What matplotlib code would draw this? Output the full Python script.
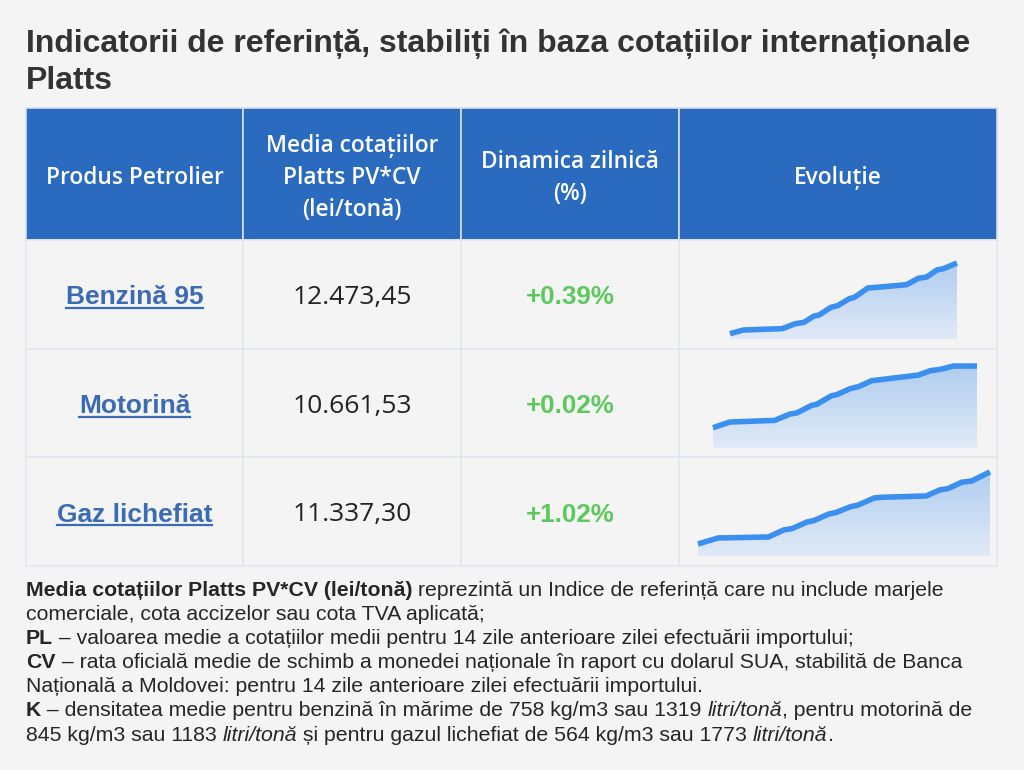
import matplotlib
matplotlib.use("Agg")
import matplotlib.pyplot as plt
import numpy as np
from matplotlib.patches import Rectangle
from matplotlib.colors import LinearSegmentedColormap

# ---------------- data ----------------
title_lines = ["Indicatorii de referință, stabiliți în baza cotațiilor internaționale", "Platts"]
headers = [["Produs Petrolier"],
           ["Media cotațiilor", "Platts PV*CV", "(lei/tonă)"],
           ["Dinamica zilnică", "(%)"],
           ["Evoluție"]]
products = ["Benzină 95", "Motorină", "Gaz lichefiat"]
prices = ["12.473,45", "10.661,53", "11.337,30"]
changes = ["+0.39%", "+0.02%", "+1.02%"]

# sparkline series (time position, level)
benz_t = [0, 40, 155, 195, 220, 250, 265, 300, 320, 355, 370, 410, 435, 525, 560, 585, 615, 635, 675]
benz_v = [16, 27, 31, 46, 50, 69, 72, 95, 100, 121, 125, 153, 155, 163, 182, 186, 207, 211, 228]
moto_t = [0, 50, 185, 230, 250, 295, 310, 355, 370, 410, 435, 475, 500, 615, 650, 680, 720, 790]
moto_v = [60, 77, 82, 101, 104, 127, 130, 156, 159, 177, 183, 201, 204, 218, 231, 235, 245, 245]
gaz_t = [0, 60, 210, 255, 280, 325, 345, 390, 410, 455, 475, 525, 545, 680, 720, 745, 785, 815, 870]
gaz_v = [37, 55, 58, 79, 83, 103, 107, 127, 131, 149, 153, 175, 177, 181, 199, 203, 222, 226, 253]
series = [(benz_t, benz_v), (moto_t, moto_v), (gaz_t, gaz_v)]

# ---------------- layout ----------------
W, H = 1024, 770
BG = "#f4f4f4"
fig = plt.figure(figsize=(W / 100, H / 100), dpi=100, facecolor=BG)


def fx(px):
    return px / W


def fy(py):
    return 1 - py / H


col_x = [26, 243, 461, 679, 997]
row_y = [108, 240, 349, 457.5, 566]
HEADER_BG = "#2a6bc0"
BORDER = "#e3e6ed"

# title
fig.text(fx(26), fy(52), title_lines[0], fontsize=23.0, fontweight="bold",
         family="Liberation Sans", color="#333333", va="baseline", ha="left")
fig.text(fx(26), fy(89), title_lines[1], fontsize=23.0, fontweight="bold",
         family="Liberation Sans", color="#333333", va="baseline", ha="left")

# header cells
for i in range(4):
    x0, x1 = col_x[i], col_x[i + 1]
    fig.patches.append(Rectangle((fx(x0), fy(row_y[1])), fx(x1) - fx(x0),
                                 fy(row_y[0]) - fy(row_y[1]), transform=fig.transFigure,
                                 facecolor=HEADER_BG, edgecolor="#d6dfee", linewidth=1.2,
                                 zorder=-2))
    lines = headers[i]
    cx = (x0 + x1) / 2
    cy = (row_y[0] + row_y[1]) / 2 + 4
    n = len(lines)
    for k, ln in enumerate(lines):
        yy = cy + (k - (n - 1) / 2) * 32
        fig.text(fx(cx), fy(yy), ln, fontsize=16.4, fontweight="semibold",
                 family="Open Sans", color="white", ha="center", va="center")

# body cells
for r in range(3):
    y0, y1 = row_y[r + 1], row_y[r + 2]
    for i in range(4):
        x0, x1 = col_x[i], col_x[i + 1]
        fig.patches.append(Rectangle((fx(x0), fy(y1)), fx(x1) - fx(x0), fy(y0) - fy(y1),
                                     transform=fig.transFigure, facecolor=BG,
                                     edgecolor=BORDER, linewidth=1.2, zorder=-2))
    cy = (y0 + y1) / 2 + 3
    fig.text(fx((col_x[0] + col_x[1]) / 2), fy(cy), products[r], fontsize=19,
             fontweight="bold", family="Liberation Sans", color="#3a6bb3",
             ha="center", va="center")
    fig.text(fx((col_x[1] + col_x[2]) / 2), fy(cy), prices[r], fontsize=19,
             family="Open Sans", color="#222222", ha="center", va="center")
    fig.text(fx((col_x[2] + col_x[3]) / 2), fy(cy), changes[r], fontsize=18.7,
             fontweight="bold", family="Liberation Sans", color="#5cc95c",
             ha="center", va="center")

# underline product names
fig.canvas.draw()
renderer = fig.canvas.get_renderer()
for t in list(fig.texts):
    if t.get_text() in products:
        bb = t.get_window_extent(renderer)
        base = bb.y0 + bb.height * 0.2
        fig.add_artist(plt.Line2D([bb.x0 / W, bb.x1 / W], [(base - 3.5) / H, (base - 3.5) / H],
                                  transform=fig.transFigure, color="#3a6bb3", linewidth=1.6))

# sparklines: (left px, right px, bottom px)
spark_pos = [(730, 957, 339), (713, 977, 447.7), (698, 990, 556.3)]
cmap = LinearSegmentedColormap.from_list("g", ["#e0eaf7", "#b0cdf0"])
for (t_, v_), (l, rgt, b) in zip(series, spark_pos):
    t_ = np.array(t_, float)
    v_ = np.array(v_, float)
    width_px = rgt - l
    vmax = 260
    height_px = vmax / 3.0
    ax = fig.add_axes([fx(l), fy(b), width_px / W, height_px / H], zorder=5)
    ax.patch.set_alpha(0)
    ax.set_xlim(t_[0], t_[-1])
    ax.set_ylim(0, vmax)
    ax.axis("off")
    poly = ax.fill_between(t_, 0, v_, color="none", linewidth=0)
    grad = np.linspace(0, 1, 256).reshape(-1, 1)
    im = ax.imshow(grad, cmap=cmap, aspect="auto", origin="lower",
                   extent=[t_[0], t_[-1], 0, v_.max()], zorder=1)
    im.set_clip_path(poly.get_paths()[0], transform=ax.transData)
    ax.plot(t_, v_, color="#3b8fef", linewidth=4.0, solid_joinstyle="round",
            solid_capstyle="butt", zorder=3, clip_on=False)
    ax.set_xlim(t_[0], t_[-1])
    ax.set_ylim(0, vmax)

# footnotes
FS = 15.3
FC = "#262626"
foot = [
    [("Media cotațiilor Platts PV*CV (lei/tonă)", "bold", "normal"),
     (" reprezintă un Indice de referință care nu include marjele", "normal", "normal")],
    [("comerciale, cota accizelor sau cota TVA aplicată;", "normal", "normal")],
    [("PL", "bold", "normal"),
     (" – valoarea medie a cotațiilor medii pentru 14 zile anterioare zilei efectuării importului;", "normal", "normal")],
    [("CV", "bold", "normal"),
     (" – rata oficială medie de schimb a monedei naționale în raport cu dolarul SUA, stabilită de Banca", "normal", "normal")],
    [("Națională a Moldovei: pentru 14 zile anterioare zilei efectuării importului.", "normal", "normal")],
    [("K", "bold", "normal"),
     (" – densitatea medie pentru benzină în mărime de 758 kg/m3 sau 1319 ", "normal", "normal"),
     ("litri/tonă", "normal", "italic"),
     (", pentru motorină de", "normal", "normal")],
    [("845 kg/m3 sau 1183 ", "normal", "normal"),
     ("litri/tonă", "normal", "italic"),
     (" și pentru gazul lichefiat de 564 kg/m3 sau 1773 ", "normal", "normal"),
     ("litri/tonă", "normal", "italic"),
     (".", "normal", "normal")],
]
base0 = 596
for li, segs in enumerate(foot):
    x = 26.0
    yb = base0 + li * 24.1
    for txt, wt, st in segs:
        tt = fig.text(fx(x), fy(yb), txt, fontsize=FS, fontweight=wt, fontstyle=st,
                      family="Liberation Sans", color=FC, ha="left", va="baseline")
        bb = tt.get_window_extent(renderer)
        x = bb.x1

fig.savefig("out.png", dpi=100, facecolor=BG)
